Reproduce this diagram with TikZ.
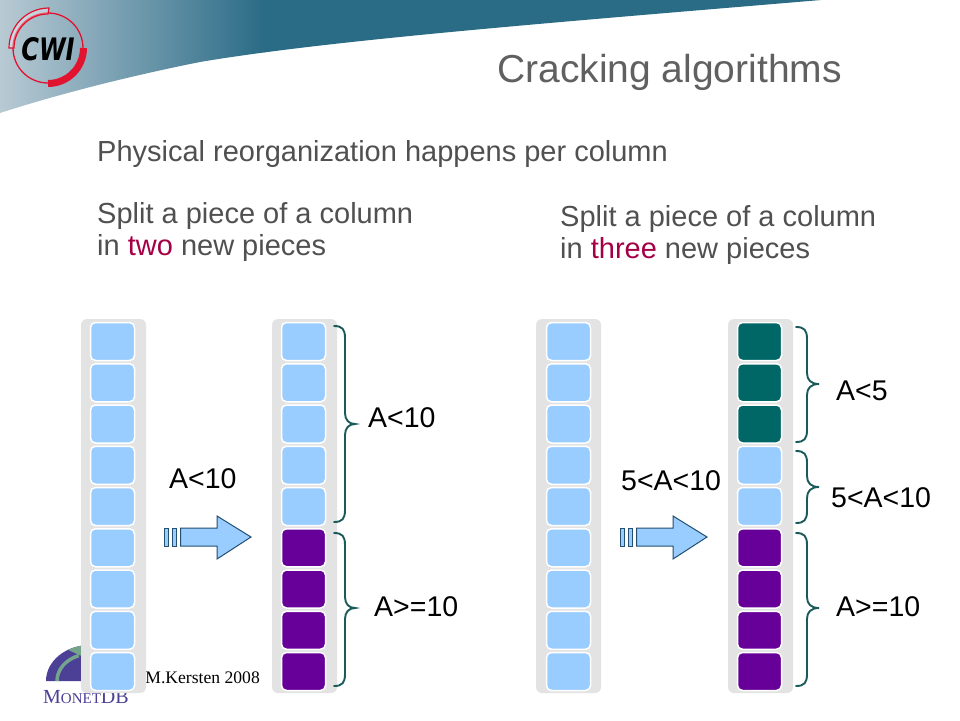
\documentclass[tikz,border=0pt]{standalone}
\usepackage{fontspec}
\setmainfont{Liberation Sans}
\newfontfamily\serifface{Liberation Serif}
\newfontfamily\cwiface{DejaVu Sans}
\usetikzlibrary{calc}
\definecolor{bannerlight}{HTML}{B8CAD4}
\definecolor{bannerdark}{HTML}{2A6B86}
\definecolor{bodygray}{HTML}{505050}
\definecolor{titlegray}{HTML}{606060}
\definecolor{accent}{HTML}{A50046}
\definecolor{panelgray}{HTML}{E3E3E3}
\definecolor{cellblue}{HTML}{99CCFF}
\definecolor{cellpurple}{HTML}{660099}
\definecolor{cellteal}{HTML}{006666}
\definecolor{bracecol}{HTML}{1B5A5A}
\definecolor{arrowline}{HTML}{234F70}
\definecolor{cwired}{HTML}{E2132F}
\definecolor{monetpurple}{HTML}{4B3F96}
\definecolor{monetgreen}{HTML}{74A58C}
\tikzset{
  panelbox/.style={fill=panelgray,rounded corners=6pt,minimum width=65pt,minimum height=374pt,inner sep=0pt,outer sep=0pt},
  cellbox/.style={draw=white,line width=1.5pt,rounded corners=5pt,minimum width=44pt,minimum height=38pt,inner sep=0pt,outer sep=0pt},
  bodytext/.style={anchor=base west,inner sep=0pt,text=bodygray,font=\fontsize{29}{34}\selectfont},
  labeltext/.style={anchor=base west,inner sep=0pt,text=black,font=\fontsize{28.5}{34}\selectfont},
  bracepath/.style={draw=bracecol,line width=1.9pt,line cap=round},
  blockarrow/.style={fill=cellblue,draw=arrowline,line width=1pt,line join=miter}
}
% brace: x start, x spine, x tip, y top, y tip, y bottom
\newcommand{\sidebrace}[6]{%
  \draw[bracepath] (#1,#4) .. controls ({#2-3},#4) and (#2,{#4+3}) .. (#2,{#4+12})
    -- (#2,{#5-11}) .. controls (#2,{#5-4}) and ({#2+4},#5) .. (#3,#5)
    .. controls ({#2+4},#5) and (#2,{#5+4}) .. (#2,{#5+11})
    -- (#2,{#6-12}) .. controls (#2,{#6-3}) and ({#2-3},#6) .. (#1,#6);}
% block arrow with left edge at x
\newcommand{\blockarr}[2]{%
  \begin{scope}[shift={(#1,#2)}]
    \draw[blockarrow] (0,-9) rectangle (4.5,9);
    \draw[blockarrow] (8,-9) rectangle (12.5,9);
    \draw[blockarrow] (16.5,-9) -- (53,-9) -- (53,-21) -- (87,0) -- (53,22) -- (53,9) -- (16.5,9) -- cycle;
  \end{scope}}
\begin{document}
\begin{tikzpicture}[x=1pt,y=-1pt]
\useasboundingbox (0,0) rectangle (960,720);
\fill[white] (0,0) rectangle (960,720);
% banner
\begin{scope}
  \clip (0,0) -- (821,0) .. controls (560,22) and (330,40) .. (200,62)
    .. controls (110,80) and (40,100) .. (0,113) -- cycle;
  \shade[left color=bannerlight,right color=bannerdark] (0,0) rectangle (265,120);
  \fill[bannerdark] (264,0) rectangle (830,120);
\end{scope}
% CWI logo
\draw[cwired,line width=1.3pt] (48,48) circle (35);
\draw[cwired,line width=7pt] (83.5,48) arc (0:90:35.5);
\draw[cwired,line width=1.2pt,fill=white,fill opacity=.35] (49,8) arc (270:180:40) -- (14,48) arc (180:270:34) -- cycle;
\node[anchor=base,inner sep=0pt,text=black,xscale=.78] (cwi) at (48,60)
  {\cwiface\fontsize{31}{36}\selectfont\bfseries\itshape CWI};
% MonetDB logo
\fill[monetpurple] (46,681) arc (180:270:44 and 36) -- (90,681) -- cycle;
\fill[monetgreen] (68,649.8) arc (240:300:44 and 36) -- (90,660) -- cycle;
\draw[monetgreen,line width=3.5pt] (57,681) arc (180:250:33 and 27);
\node[anchor=base west,inner sep=0pt,text=monetpurple] (monet) at (43,703)
  {\serifface\fontsize{20}{22}\selectfont M\fontsize{15}{18}\selectfont ONET\fontsize{20}{22}\selectfont DB};
\node[anchor=base east,inner sep=0pt,text=black] (author) at (260,683)
  {\serifface\fontsize{17.6}{20}\selectfont M.Kersten 2008};
% title and body
\node[anchor=base west,inner sep=0pt,text=titlegray] (title) at (497,82)
  {\fontsize{39}{44}\selectfont Cracking algorithms};
\node[bodytext] (intro) at (97,161) {Physical reorganization happens per column};
\node[bodytext] (lefta) at (97,223) {Split a piece of a column};
\node[bodytext] (leftb) at (97,255) {in \textcolor{accent}{two} new pieces};
\node[bodytext] (righta) at (560,226) {Split a piece of a column};
\node[bodytext] (rightb) at (560,258) {in \textcolor{accent}{three} new pieces};
% columns
\foreach \name/\cx in {p1/113.5,p2/304.5,p3/568.5,p4/760.5}
  \node[panelbox] (\name) at (\cx,506) {};
\foreach \i in {1,...,9} {
  \pgfmathsetmacro{\cy}{341.5+41.25*(\i-1)}
  \node[cellbox,fill=cellblue] (a\i) at (112.5,\cy) {};
  \node[cellbox,fill=cellblue] (c\i) at (568.5,\cy) {};
  \ifnum\i<6 \node[cellbox,fill=cellblue] (b\i) at (303.5,\cy) {};
  \else \node[cellbox,fill=cellpurple] (b\i) at (303.5,\cy) {}; \fi
  \ifnum\i<4 \node[cellbox,fill=cellteal] (d\i) at (759.5,\cy) {};
  \else\ifnum\i<6 \node[cellbox,fill=cellblue] (d\i) at (759.5,\cy) {};
  \else \node[cellbox,fill=cellpurple] (d\i) at (759.5,\cy) {}; \fi\fi
}
% braces
\sidebrace{334}{345}{355}{326}{424}{522}
\sidebrace{334}{345}{355}{533}{608}{686}
\sidebrace{796}{807}{819}{327}{384}{442}
\sidebrace{796}{807}{819}{451}{487}{523}
\sidebrace{796}{807}{819}{533}{608}{686}
% arrows
\blockarr{164}{537}
\blockarr{620}{537}
% labels
\node[labeltext] (l1) at (169,488) {A<10};
\node[labeltext] (l2) at (368,427) {A<10};
\node[labeltext] (l3) at (374,616) {A>=10};
\node[labeltext] (l4) at (621,490) {5<A<10};
\node[labeltext] (l5) at (836,400) {A<5};
\node[labeltext] (l6) at (831,507) {5<A<10};
\node[labeltext] (l7) at (836,616) {A>=10};
\end{tikzpicture}
\end{document}
